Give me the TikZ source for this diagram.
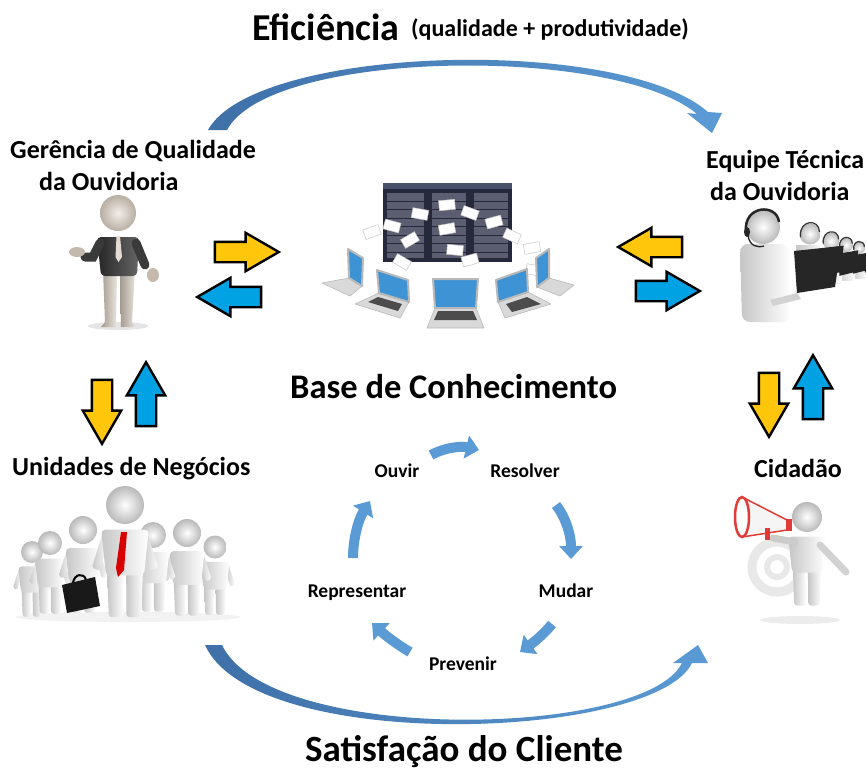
\documentclass[tikz,border=0pt]{standalone}
\usepackage{fontspec}
\setmainfont{Carlito}
\usetikzlibrary{shapes.arrows,arrows.meta}

\definecolor{flowblue}{HTML}{5B9BD5}
\definecolor{flowdark}{HTML}{3F70A8}
\definecolor{amber}{HTML}{FFC60B}
\definecolor{sky}{HTML}{00A2E4}
\definecolor{rackface}{HTML}{26293B}
\definecolor{racktop}{HTML}{4A4F6A}
\definecolor{rackpanel}{HTML}{5A5E70}
\definecolor{skin}{HTML}{D9CDBF}
\definecolor{shirt}{HTML}{3A3A3A}
\definecolor{screenblue}{HTML}{3D93D3}
\definecolor{horn}{HTML}{E23A36}

% parts of a little 3D figure, head radius = 1 unit, y pointing down
\newcommand\figurecore{%
  \shade[dudebody, rounded corners=3pt] (-0.95,3.3) -- (-0.85,5.9) -- (-0.08,5.9) -- (-0.06,3.5) -- cycle;
  \shade[dudebody, rounded corners=3pt] (0.95,3.3) -- (0.85,5.9) -- (0.08,5.9) -- (0.06,3.5) -- cycle;
  \shade[dudebody, rounded corners=4pt] (-1.25,1.3) -- (1.25,1.3) -- (1.0,3.7) -- (-1.0,3.7) -- cycle;
  \shade[dudeskin] (0,0) circle (1);
}
\newcommand\figurearms{%
  \shade[dudebody, rounded corners=2pt] (-1.15,1.4) -- (-1.75,3.3) -- (-1.35,3.45) -- (-0.9,2.0) -- cycle;
  \shade[dudebody, rounded corners=2pt] (1.15,1.4) -- (1.75,3.3) -- (1.35,3.45) -- (0.9,2.0) -- cycle;
}

\tikzset{
  dudeskin/.style={inner color=white, outer color=gray!55},
  dudebody/.style={left color=gray!45, right color=white},
  dude/.pic={\figurearms\figurecore},
  dude base/.pic={\figurecore},
}

\begin{document}
\begin{tikzpicture}[x=1pt, y=-1pt,
  title/.style={inner sep=0pt, anchor=base west, font=\fontsize{38}{40}\selectfont\bfseries},
  subtitle/.style={inner sep=0pt, anchor=base west, font=\fontsize{24}{26}\selectfont\bfseries},
  role/.style={inner sep=0pt, anchor=base west, font=\fontsize{26}{28}\selectfont\bfseries},
  hub/.style={inner sep=0pt, anchor=base west, font=\fontsize{34.5}{36}\selectfont\bfseries},
  phase/.style={inner sep=0pt, anchor=base, font=\fontsize{19.5}{21}\selectfont\bfseries},
  flow/.style={draw=black, line width=2.4pt, single arrow, inner xsep=0pt, inner ysep=9pt,
    single arrow head extend=9pt, single arrow tip angle=60, minimum height=64pt},
  give/.style={flow, fill=amber},
  take/.style={flow, fill=sky},
  cycle arrow/.style={draw=flowblue, line width=10pt, -{Triangle[width=23pt,length=13pt]}},
  sweep/.style={left color=flowdark, right color=flowblue, draw=none},
  paper/.style={fill=white, draw=gray!45, line width=0.5pt},
  notebook/.style={fill=screenblue, draw=gray!55, line width=2pt, line join=round},
  deck/.style={fill=gray!30, draw=gray!55, line width=0.6pt, line join=round},
]
\useasboundingbox (0,0) rectangle (866,769);
\fill[white] (0,0) rectangle (866,769);

% ---------- upper sweep: efficiency ----------
\shade[sweep] (208,130) .. controls (255,45) and (620,35) .. (708,112)
  -- (722,113) -- (712,133) -- (687,113) -- (697,114)
  .. controls (615,45) and (270,49) .. (227,130) -- cycle;
\node[title] (efic) at (252,40) {Eficiência};
\node[subtitle] (eficsub) at (411,36) {(qualidade + produtividade)};

% ---------- lower sweep: customer satisfaction ----------
\shade[sweep] (205,645) .. controls (255,755) and (655,740) .. (692,663)
  -- (708,663) -- (698,645) -- (673,663) -- (682,663)
  .. controls (645,738) and (270,745) .. (222,645) -- cycle;
\node[title, anchor=base, font=\fontsize{37}{40}\selectfont\bfseries] (sat) at (464,761) {Satisfação do Cliente};

% ---------- labels ----------
\node[role] (gq1) at (10,158) {Gerência de Qualidade};
\node[role] (gq2) at (39,190) {da Ouvidoria};
\node[role] (eq1) at (706,168) {Equipe Técnica};
\node[role] (eq2) at (710,200) {da Ouvidoria};
\node[hub] (kb) at (290,398) {Base de Conhecimento};
\node[role] (un) at (12,475) {Unidades de Negócios};
\node[role] (cid) at (754,477) {Cidadão};

% ---------- exchange arrows ----------
\node[give] (gqA) at (238,252) {};
\node[take, rotate=180] (gqB) at (238,297) {};
\node[give, rotate=180] (eqA) at (659,247) {};
\node[take] (eqB) at (659,291) {};
\node[give, rotate=-90] (unA) at (102,403) {};
\node[take, rotate=90] (unB) at (146,403) {};
\node[give, rotate=-90] (cidA) at (769,396) {};
\node[take, rotate=90] (cidB) at (813,396) {};

% ---------- service cycle ----------
\node[phase] (ouvir) at (397,477) {Ouvir};
\node[phase] (resolver) at (525,477) {Resolver};
\node[phase] (mudar) at (566,597) {Mudar};
\node[phase] (representar) at (357,597) {Representar};
\node[phase] (prevenir) at (463,670) {Prevenir};
\coordinate (c1s) at (431,455); \coordinate (c1e) at (479,450);
\coordinate (c2s) at (556,505); \coordinate (c2e) at (571,559);
\coordinate (c3s) at (552,624); \coordinate (c3e) at (520,652);
\coordinate (c4s) at (410,652); \coordinate (c4e) at (372,623);
\coordinate (c5s) at (353,558); \coordinate (c5e) at (370,501);
\draw[cycle arrow] (c1s) .. controls (446,447) and (462,446) .. (c1e);
\draw[cycle arrow] (c2s) .. controls (566,518) and (571,535) .. (c2e);
\draw[cycle arrow] (c3s) .. controls (544,634) and (534,642) .. (c3e);
\draw[cycle arrow] (c4s) .. controls (398,645) and (386,636) .. (c4e);
\draw[cycle arrow] (c5s) .. controls (353,540) and (358,520) .. (c5e);

% ---------- manager ----------
\fill[gray!20] (118,326) ellipse (30 and 4);
\shade[left color=skin!75!black, right color=skin!50!white] (103,270) -- (105,322) -- (101,327) -- (116,327) -- (117,275) -- cycle;
\shade[left color=skin!75!black, right color=skin!50!white] (120,275) -- (121,327) -- (136,327) -- (132,322) -- (135,270) -- cycle;
\shade[left color=black!85, right color=black!60, rounded corners=4pt] (97,237) -- (139,237) -- (137,276) -- (101,276) -- cycle;
\draw[shirt, line width=9pt, line cap=round] (100,243) -- (93,257) -- (85,257);
\draw[shirt, line width=9pt, line cap=round] (136,243) -- (145,265);
\fill[skin!90!black] (77,252) ellipse (8 and 5);
\fill[skin!90!black] (153,275) ellipse (6 and 7);
\fill[skin!70!white] (116.5,236) -- (120,236) -- (122,257) -- (118.5,262) -- (115.5,257) -- cycle;
\shade[inner color=skin!35!white, outer color=skin!85!black] (118,213) circle (18);

% ---------- knowledge base: racks, papers, notebooks ----------
\foreach \xa/\xb in {383/428,428/470,470/512}{
  \fill[rackface] (\xa,183) rectangle (\xb,262);
  \fill[racktop] (\xa,183) rectangle (\xb,189);
  \fill[rackpanel] ({\xa+4},193) rectangle ({\xb-4},258);
  \foreach \r in {0,...,6}
    \draw[rackface, line width=1pt] ({\xa+4},{201+\r*8.5}) -- ({\xb-4},{201+\r*8.5});
}
\foreach \px/\py/\a in {372/232/20, 392/226/-15, 410/240/30, 420/214/-10, 447/205/5,
    470/213/-20, 447/229/10, 494/222/15, 512/236/-25, 532/248/10, 402/262/-30,
    470/260/15, 388/282/20, 534/270/-10, 455/250/-5}
  \filldraw[paper, rotate around={\a:(\px,\py)}] ({\px-8},{\py-5}) rectangle ({\px+8},{\py+5});
% notebooks, left to right
\filldraw[deck] (349,278) -- (362,286) -- (350,296) -- (322,283) -- cycle;
\filldraw[notebook] (348,249) -- (363,258) -- (362,286) -- (349,278) -- cycle;
\filldraw[deck] (379,293) -- (409,302) -- (400,318) -- (355,304) -- cycle;
\fill[black!70] (378,297) -- (402,304) -- (398,311) -- (368,302) -- cycle;
\filldraw[notebook] (377,270) -- (408,280) -- (409,302) -- (379,293) -- cycle;
\filldraw[deck] (435,308) -- (476,308) -- (484,328) -- (427,328) -- cycle;
\fill[black!70] (438,311) -- (473,311) -- (477,320) -- (434,320) -- cycle;
\filldraw[notebook] (433,279) -- (478,279) -- (476,308) -- (435,308) -- cycle;
\filldraw[deck] (498,302) -- (528,292) -- (551,304) -- (505,318) -- cycle;
\fill[black!70] (506,304) -- (527,297) -- (541,304) -- (512,312) -- cycle;
\filldraw[notebook] (496,280) -- (527,269) -- (528,292) -- (498,302) -- cycle;
\filldraw[deck] (537,287) -- (549,278) -- (574,285) -- (560,296) -- cycle;
\filldraw[notebook] (536,258) -- (549,249) -- (549,278) -- (537,287) -- cycle;

% ---------- technical team ----------
\foreach \hx/\hy/\s in {859/248/6, 846/245/7, 831/241/8.5, 810/234/10.5}{
  \shade[dudebody] ({\hx-1.3*\s},{\hy+1.1*\s}) rectangle ({\hx+1.3*\s},{\hy+5*\s});
  \shade[dudeskin] (\hx,\hy) circle (\s);
  \draw[black!80, line width=1.2pt] ({\hx-0.9*\s},{\hy+0.3*\s}) .. controls ({\hx-1.1*\s},{\hy-1.4*\s}) and ({\hx+0.9*\s},{\hy-1.5*\s}) .. ({\hx+0.9*\s},{\hy-0.2*\s});
  \fill[black!85] ({\hx+0.8*\s},{\hy+1.5*\s}) -- ({\hx+3.2*\s},{\hy+1.1*\s}) -- ({\hx+3.0*\s},{\hy+3.6*\s}) -- ({\hx+1.0*\s},{\hy+4.1*\s}) -- cycle;
}
\shade[dudebody, rounded corners=8pt] (740,244) -- (789,244) -- (791,322) -- (742,322) -- cycle;
\shade[dudeskin] (763,227) circle (17);
\draw[black!85, line width=2.5pt] (746,232) .. controls (743,205) and (777,203) .. (779,222);
\fill[black!85] (747,232) ellipse (3 and 5);
\draw[black!85, line width=1.3pt] (748,236) .. controls (750,246) and (757,248) .. (764,246);
\fill[gray!35] (770,300) -- (797,293) -- (801,299) -- (773,306) -- cycle;
\fill[black!85] (794,251) -- (841,246) -- (835,287) -- (797,293) -- cycle;

% ---------- business units crowd ----------
\fill[gray!10] (128,617) ellipse (112 and 5);
\pic[shift={(32,552)}, scale=11] {dude};
\pic[shift={(50,543)}, scale=12] {dude};
\pic[shift={(215,547)}, scale=11.5] {dude};
\pic[shift={(187,533)}, scale=14] {dude};
\pic[shift={(153,535)}, scale=13] {dude};
\pic[shift={(83,530)}, scale=14] {dude};
\pic[shift={(125,505)}, scale=19] {dude};
\fill[red!85!black] (121,532) -- (127,532) -- (124,570) -- (118,577) -- (116,568) -- cycle;
\draw[black, line width=2pt] (73,583) .. controls (74,574) and (84,572) .. (86,580);
\fill[black!90] (62,585) -- (95,577) -- (100,606) -- (67,613) -- cycle;

% ---------- citizen with megaphone ----------
\draw[gray!18, line width=9pt] (777,567) circle (25);
\draw[gray!18, line width=6pt] (777,567) circle (10);
\fill[gray!15] (800,620) ellipse (40 and 4);
\pic[shift={(807,517)}, scale=15] {dude base};
\draw[gray!40, line width=7pt, line cap=round] (795,542) -- (773,538);
\draw[gray!35, line width=7pt, line cap=round] (820,545) -- (846,572);
\filldraw[fill=white!92!gray, draw=horn, line width=1.5pt] (742,497) -- (787,520) -- (787,530) -- (742,537) -- cycle;
\filldraw[fill=white, draw=horn, line width=2.5pt] (742,517) ellipse (7 and 20);
\fill[horn] (786,519) rectangle (792,531);
\fill[horn] (765,528) rectangle (770,540);
\end{tikzpicture}
\end{document}
